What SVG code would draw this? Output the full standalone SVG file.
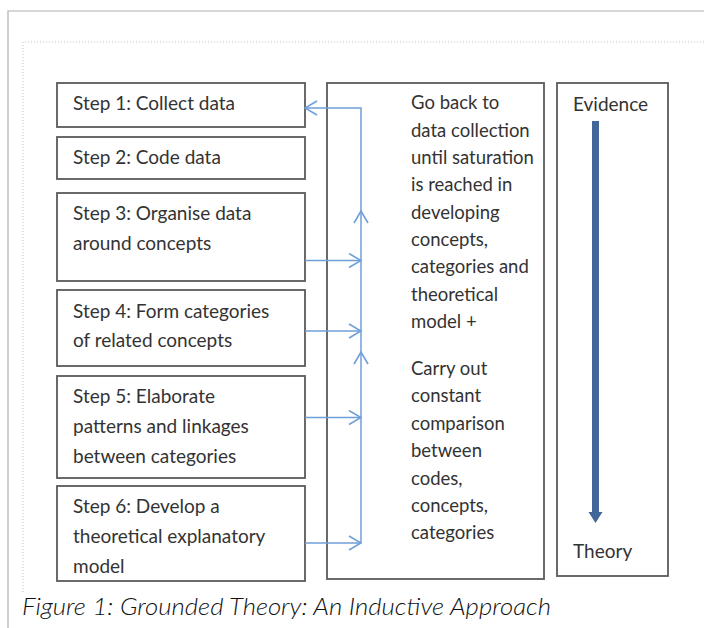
<svg xmlns="http://www.w3.org/2000/svg" width="704" height="628" viewBox="0 0 704 628">
<defs>
<style>
.box{fill:#fff;stroke:#5a5a5a;stroke-width:1.8}
.t{font-family:Lato,"Liberation Sans",sans-serif;font-size:19px;fill:#333}
.m{font-size:18.5px}
.conn{stroke:#6f9fd8;stroke-width:1.5;fill:none}
.frame{stroke:#b0b0b0;stroke-width:1.2;fill:none}
.dots{stroke:#c4c4c4;stroke-width:1;stroke-dasharray:1 2;fill:none}
</style>
<marker id="open" viewBox="0 0 14 16" refX="13" refY="8" markerWidth="14" markerHeight="16" markerUnits="userSpaceOnUse" orient="auto">
<path d="M1,1 L13,8 L1,15" fill="none" stroke="#6f9fd8" stroke-width="1.6"/>
</marker>
</defs>
<rect width="704" height="628" fill="#fff"/>
<path class="frame" d="M8,628 V11 H704"/>
<path class="dots" d="M23,592 V42 H704"/>

<g id="step1"><rect class="box" x="57" y="83" width="248" height="44"/><text class="t" x="73" y="110">Step 1: Collect data</text></g>
<g id="step2"><rect class="box" x="57" y="137" width="248" height="42"/><text class="t" x="73" y="164">Step 2: Code data</text></g>
<g id="step3"><rect class="box" x="57" y="193" width="248" height="88"/><text class="t" x="73" y="220">Step 3: Organise data</text><text class="t" x="73" y="250">around concepts</text></g>
<g id="step4"><rect class="box" x="57" y="290" width="248" height="76"/><text class="t" x="73" y="318">Step 4: Form categories</text><text class="t" x="73" y="347">of related concepts</text></g>
<g id="step5"><rect class="box" x="57" y="376" width="248" height="102"/><text class="t" x="73" y="403">Step 5: Elaborate</text><text class="t" x="73" y="433">patterns and linkages</text><text class="t" x="73" y="463">between categories</text></g>
<g id="step6"><rect class="box" x="57" y="486" width="248" height="95"/><text class="t" x="73" y="513">Step 6: Develop a</text><text class="t" x="73" y="543">theoretical explanatory</text><text class="t" x="73" y="573">model</text></g>

<g id="loop"><rect class="box" x="327" y="83" width="217" height="496"/>
<text class="t m" x="411" y="109">Go back to</text>
<text class="t m" x="411" y="136.5">data collection</text>
<text class="t m" x="411" y="164">until saturation</text>
<text class="t m" x="411" y="191">is reached in</text>
<text class="t m" x="411" y="218.5">developing</text>
<text class="t m" x="411" y="246">concepts,</text>
<text class="t m" x="411" y="273">categories and</text>
<text class="t m" x="411" y="300.5">theoretical</text>
<text class="t m" x="411" y="328">model +</text>
<text class="t m" x="411" y="375">Carry out</text>
<text class="t m" x="411" y="402">constant</text>
<text class="t m" x="411" y="430">comparison</text>
<text class="t m" x="411" y="457">between</text>
<text class="t m" x="411" y="484.5">codes,</text>
<text class="t m" x="411" y="512">concepts,</text>
<text class="t m" x="411" y="539">categories</text>
</g>

<g id="scale"><rect class="box" x="557" y="83" width="111" height="493"/>
<text class="t" x="573" y="111">Evidence</text>
<text class="t" x="573" y="558">Theory</text>
<rect x="592" y="121" width="7" height="392" fill="#41679a"/>
<path d="M588.5,512 H602.5 L595.5,523 Z" fill="#41679a"/>
</g>

<g id="connectors">
<path class="conn" d="M361,543 V352" marker-end="url(#open)"/>
<path class="conn" d="M361,352 V211" marker-end="url(#open)"/>
<path class="conn" d="M361,211 V108 H305" marker-end="url(#open)"/>
<path class="conn" d="M305,260.5 H361" marker-end="url(#open)"/>
<path class="conn" d="M305,331 H361" marker-end="url(#open)"/>
<path class="conn" d="M305,417.5 H361" marker-end="url(#open)"/>
<path class="conn" d="M305,543 H361" marker-end="url(#open)"/>
</g>

<text x="22" y="615" font-family="Lato,'Liberation Sans',sans-serif" font-style="italic" font-weight="300" font-size="24" fill="#111" textLength="529" lengthAdjust="spacingAndGlyphs">Figure 1: Grounded Theory: An Inductive Approach</text>
</svg>
